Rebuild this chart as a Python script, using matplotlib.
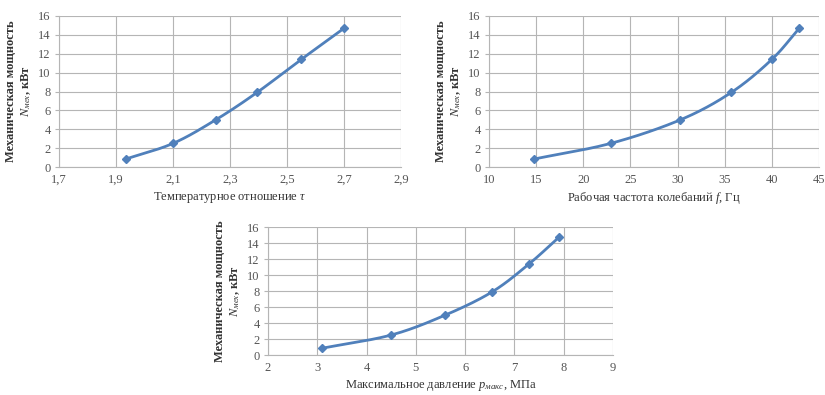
import numpy as np
import matplotlib
matplotlib.use("Agg")
import matplotlib.pyplot as plt

plt.rcParams['font.family'] = ['Liberation Serif', 'DejaVu Serif']
plt.rcParams['mathtext.fontset'] = 'custom'
plt.rcParams['mathtext.rm'] = 'Liberation Serif'
plt.rcParams['mathtext.it'] = 'Liberation Serif:italic'

# Data
power = [0.85, 2.5, 5.0, 7.9, 11.4, 14.7]
temp_ratio = [1.935, 2.10, 2.25, 2.395, 2.55, 2.70]
freq = [14.8, 22.9, 30.3, 35.7, 40.0, 42.9]
pressure = [3.1, 4.5, 5.6, 6.55, 7.3, 7.9]

x1_ticks = [1.7, 1.9, 2.1, 2.3, 2.5, 2.7, 2.9]
x1_labels = ['1,7', '1,9', '2,1', '2,3', '2,5', '2,7', '2,9']
x2_ticks = [10, 15, 20, 25, 30, 35, 40, 45]
x3_ticks = [2, 3, 4, 5, 6, 7, 8, 9]
y_ticks = [0, 2, 4, 6, 8, 10, 12, 14, 16]

xlabels = ['Температурное отношение $\\mathit{τ}$',
           'Рабочая частота колебаний $\\mathit{f}$, Гц',
           'Максимальное давление $\\mathit{p}_{\\mathit{макс}}$, МПа']
ylabel = 'Механическая мощность\n$\\mathit{N}_{\\mathit{мех}}$, кВт'

LINE = '#5080bb'
GRID = '#b5b5b5'
TXT = '#555555'


def catmull_rom(x, y, n=30):
    x = np.asarray(x, float); y = np.asarray(y, float)
    P = np.column_stack([x, y])
    P = np.vstack([2 * P[0] - P[1], P, 2 * P[-1] - P[-2]])
    out = []
    t = np.linspace(0, 1, n)[:, None]
    for i in range(1, len(P) - 2):
        p0, p1, p2, p3 = P[i - 1], P[i], P[i + 1], P[i + 2]
        seg = 0.5 * ((2 * p1) + (-p0 + p2) * t + (2 * p0 - 5 * p1 + 4 * p2 - p3) * t ** 2
                     + (-p0 + 3 * p1 - 3 * p2 + p3) * t ** 3)
        out.append(seg)
    S = np.vstack(out)
    return S[:, 0], S[:, 1]


fig = plt.figure(figsize=(8.25, 3.95), dpi=100)
fig.patch.set_facecolor('white')

positions = [
    [59 / 825, 1 - 167 / 395, (401 - 59) / 825, (167 - 16) / 395],
    [489 / 825, 1 - 167 / 395, (819 - 489) / 825, (167 - 16) / 395],
    [268 / 825, 1 - 355 / 395, (613 - 268) / 825, (355 - 227) / 395],
]
xs = [temp_ratio, freq, pressure]
xlims = [(1.7, 2.9), (10, 45), (2, 9)]
xticks = [x1_ticks, x2_ticks, x3_ticks]
xticklabels = [x1_labels, [str(v) for v in x2_ticks], [str(v) for v in x3_ticks]]

for pos, x, xl, xt, xtl, lab in zip(positions, xs, xlims, xticks, xticklabels, xlabels):
    ax = fig.add_axes(pos)
    ax.set_xlim(*xl)
    ax.set_ylim(0, 16)
    ax.set_xticks(xt)
    ax.set_xticklabels(xtl)
    ax.set_yticks(y_ticks)
    ax.grid(True, color=GRID, linewidth=0.8)
    ax.set_axisbelow(True)
    for s in ['top', 'right']:
        ax.spines[s].set_visible(False)
    for s in ['left', 'bottom']:
        ax.spines[s].set_color(GRID)
        ax.spines[s].set_linewidth(0.8)
    ax.tick_params(axis='x', length=0, labelsize=9, labelcolor=TXT, pad=5)
    ax.tick_params(axis='y', length=3, color=GRID, labelsize=9, labelcolor=TXT, pad=3)
    sx, sy = catmull_rom(x, power)
    ax.plot(sx, sy, color=LINE, linewidth=2, solid_capstyle='round', clip_on=False)
    ax.plot(x, power, linestyle='none', marker='D', markersize=4.5, color=LINE, clip_on=False)
    ax.set_xlabel(lab, fontsize=9, color='#333333', labelpad=3)
    ax.set_ylabel(ylabel, fontsize=9, color='#333333', fontweight='bold', labelpad=4, linespacing=1.15)

fig.savefig('out.png', dpi=100, facecolor='white')
